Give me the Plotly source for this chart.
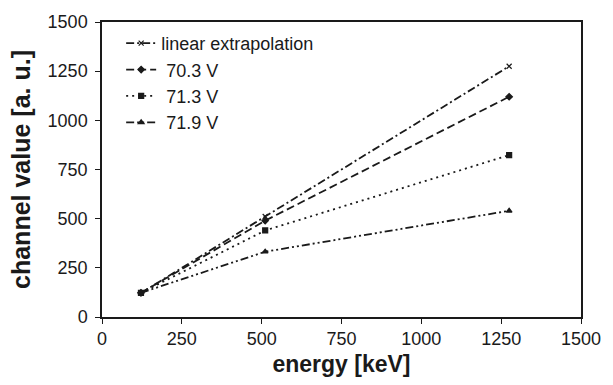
import plotly.graph_objects as go

energy = [122, 511, 1275]
linear_extrapolation = [122, 511, 1275]
v70_3 = [123, 490, 1120]
v71_3 = [123, 440, 823]
v71_9 = [123, 332, 540]

series_names = ["linear extrapolation", "70.3 V", "71.3 V", "71.9 V"]
series_values = [linear_extrapolation, v70_3, v71_3, v71_9]
dashes = ["8px,3px,2px,3px", "8px,4px", "2px,4px", "8px,3px,2px,3px,2px,3px"]
symbols = ["x-thin-open", "diamond", "square", "triangle-up"]
msizes = [5, 5, 5, 5]
names_disp = ["linear extrapolation", " 70.3 V", " 71.3 V", " 71.9 V"]

ink = "#1a1a1a"
font_fam = "Liberation Sans, Arial"
fig = go.Figure()
for i, (nm, vals) in enumerate(zip(names_disp, series_values)):
    fig.add_trace(go.Scatter(
        x=energy, y=vals, name=nm, mode="lines+markers", legendgroup=str(i),
        line=dict(color=ink, width=1.8, dash=dashes[i]),
        marker=dict(symbol=symbols[i], size=msizes[i], color=ink,
                    line=dict(color=ink, width=1.2)),
    ))

axis_common = dict(
    showline=True, linecolor=ink, linewidth=1.5, mirror=True,
    ticks="outside", ticklen=5, tickcolor=ink, tickwidth=1.2,
    showgrid=False, zeroline=False,
    tickfont=dict(family=font_fam, size=18, color=ink),
)
fig.update_xaxes(range=[0, 1500], dtick=250, tick0=0,
                 title=dict(text="<b>energy [keV]</b>", standoff=8,
                            font=dict(family=font_fam, size=23, color=ink)),
                 **axis_common)
fig.update_yaxes(range=[0, 1500], dtick=250, tick0=0, ticklabelstandoff=4,
                 title=dict(text="<b>channel value [a. u.]</b>", standoff=10,
                            font=dict(family=font_fam, size=25, color=ink)),
                 **axis_common)

fig.update_layout(
    width=613, height=385,
    margin=dict(l=102, r=31, t=18, b=67),
    paper_bgcolor="white", plot_bgcolor="white",
    legend=dict(x=0.04, y=0.99, xanchor="left", yanchor="top",
                bgcolor="rgba(0,0,0,0)", tracegroupgap=0, itemwidth=30,
                font=dict(family=font_fam, size=18, color=ink)),
)
fig.write_html("out.html")
